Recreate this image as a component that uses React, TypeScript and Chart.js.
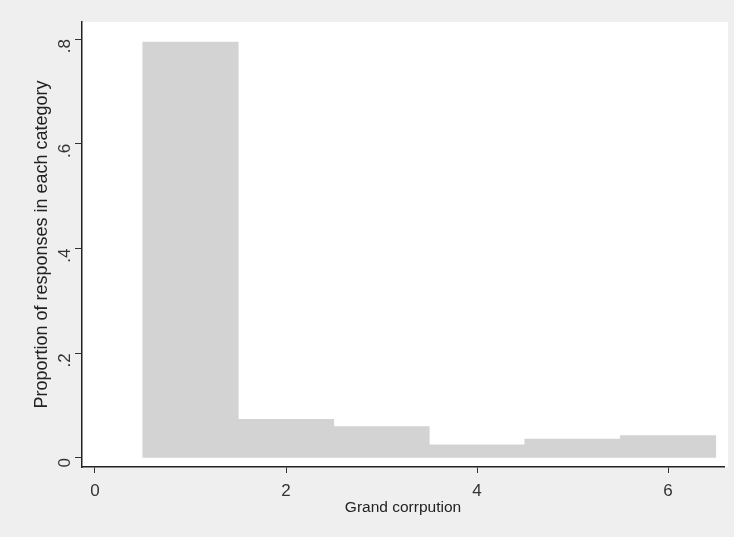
import React, { useEffect, useRef } from "react";
import { Chart, registerables } from "chart.js";

Chart.register(...registerables);

const binCenters = [1, 2, 3, 4, 5, 6];
const proportions = [0.794, 0.074, 0.06, 0.025, 0.036, 0.043];
const xTicks = [0, 2, 4, 6];
const yTicks = [0, 0.2, 0.4, 0.6, 0.8];
const yTickLabels = ["0", ".2", ".4", ".6", ".8"];
const xTitle = "Grand corrpution";
const yTitle = "Proportion of responses in each category";

const FONT = "'Liberation Sans', Arial, sans-serif";

const bgPlugin = {
  id: "bgPlugin",
  beforeDraw(chart: any) {
    const { ctx, chartArea, width, height } = chart;
    ctx.save();
    ctx.fillStyle = "#efefef";
    ctx.fillRect(0, 0, width, height);
    ctx.fillStyle = "#ffffff";
    ctx.fillRect(chartArea.left, chartArea.top, chartArea.right - chartArea.left + 4, chartArea.bottom - chartArea.top);
    ctx.restore();
  },
};

export default function App() {
  const ref = useRef<HTMLCanvasElement>(null);
  useEffect(() => {
    document.body.style.margin = "0";
    const chart = new Chart(ref.current as HTMLCanvasElement, {
      type: "bar",
      data: {
        datasets: [
          {
            data: binCenters.map((x, i) => ({ x, y: proportions[i] })),
            backgroundColor: "#d3d3d3",
            borderWidth: 0,
            barPercentage: 1,
            categoryPercentage: 1,
          },
        ],
      },
      options: {
        animation: false,
        responsive: false,
        events: [],
        layout: { padding: { left: 0, top: 22, right: 10, bottom: 0 } },
        plugins: { legend: { display: false }, tooltip: { enabled: false } },
        scales: {
          x: {
            type: "linear",
            min: -0.136,
            max: 6.586,
            offset: false,
            afterBuildTicks: (s: any) => {
              s.ticks = xTicks.map((v) => ({ value: v }));
            },
            afterFit: (s: any) => {
              s.height = 70;
            },
            grid: { display: true, offset: false, drawOnChartArea: false, drawTicks: true, tickLength: 6, tickColor: "#333", lineWidth: 1 },
            border: { display: true, color: "#222", width: 1.5 },
            ticks: {
              color: "#333",
              font: { family: FONT, size: 17 },
              padding: 8,
              maxRotation: 0,
              callback: (v: any) => String(v),
            },
            title: {
              display: true,
              text: xTitle,
              color: "#222",
              font: { family: FONT, size: 15.5 },
              padding: { top: 0, bottom: 20 },
            },
          },
          y: {
            type: "linear",
            min: -0.0172,
            max: 0.8325,
            afterBuildTicks: (s: any) => {
              s.ticks = yTicks.map((v) => ({ value: v }));
            },
            afterFit: (s: any) => {
              s.width = 82;
            },
            grid: { display: true, offset: false, drawOnChartArea: false, drawTicks: true, tickLength: 7, tickColor: "#333", lineWidth: 1 },
            border: { display: true, color: "#222", width: 1.5 },
            ticks: {
              color: "#333",
              font: { family: FONT, size: 17 },
              padding: 10,
              minRotation: 90,
              maxRotation: 90,
              callback: (v: any) => {
                const i = yTicks.findIndex((t) => Math.abs(t - v) < 1e-9);
                return i >= 0 ? yTickLabels[i] : "";
              },
            },
            title: {
              display: true,
              text: yTitle,
              color: "#222",
              font: { family: FONT, size: 18 },
              padding: { top: 31, bottom: 0 },
            },
          },
        },
      },
      plugins: [bgPlugin],
    } as any);
    return () => chart.destroy();
  }, []);
  return <canvas ref={ref} width={734} height={537} style={{ display: "block" }} />;
}
